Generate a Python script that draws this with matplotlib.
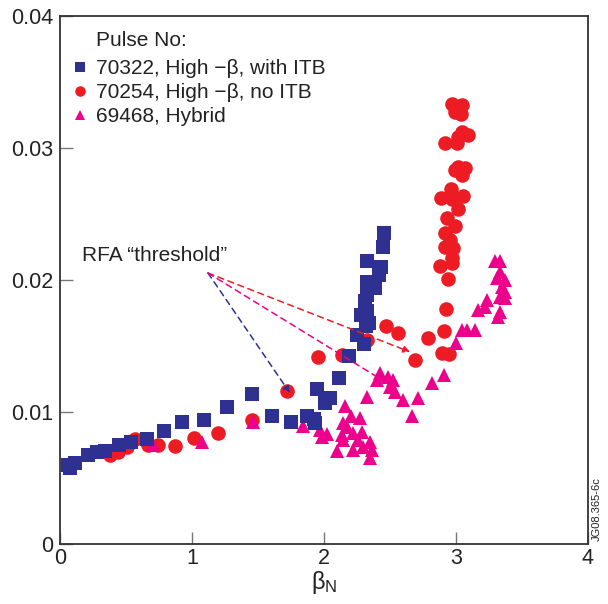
import matplotlib
matplotlib.use("Agg")
import matplotlib.pyplot as plt

plt.rcParams['font.family'] = ['Liberation Sans', 'DejaVu Sans']
plt.rcParams['mathtext.default'] = 'regular'

# 70322, High-beta, with ITB (squares)
beta_70322 = [0.061, 0.076, 0.114, 0.212, 0.280, 0.341, 0.447, 0.538, 0.659, 0.788,
              0.924, 1.091, 1.265, 1.455, 1.606, 1.750, 1.871, 1.924, 1.932, 1.947,
              2.045, 2.008, 2.114, 2.189, 2.250, 2.303, 2.318, 2.341, 2.280, 2.326,
              2.311, 2.326, 2.386, 2.326, 2.417, 2.432, 2.326, 2.447, 2.455]
rfa_70322 = [0.00598, 0.00576, 0.00614, 0.00674, 0.00697, 0.00705, 0.00750, 0.00773, 0.00795, 0.00856,
             0.00924, 0.00939, 0.01038, 0.01136, 0.00970, 0.00924, 0.00970, 0.00947, 0.00917, 0.01174,
             0.01106, 0.01068, 0.01258, 0.01424, 0.01583, 0.01515, 0.01652, 0.01674, 0.01735, 0.01765,
             0.01841, 0.01886, 0.01939, 0.01985, 0.02038, 0.02098, 0.02144, 0.02250, 0.02356]

# 70254, High-beta, no ITB (circles)
beta_70254 = [0.379, 0.439, 0.508, 0.568, 0.667, 0.742, 0.871, 1.015, 1.197, 1.455,
              1.720, 1.955, 2.136, 2.326, 2.470, 2.561, 2.689, 2.788, 2.894, 2.947,
              2.909, 2.924, 2.939, 2.879, 2.970, 2.970, 2.917, 2.977, 2.955, 2.917,
              2.992, 2.932, 3.015, 3.053, 2.970, 2.886, 2.962, 3.045, 2.992, 3.068,
              3.015, 3.008, 2.917, 3.015, 3.091, 3.045, 3.038, 2.992, 3.045, 2.970]
rfa_70254 = [0.00674, 0.00697, 0.00735, 0.00795, 0.00750, 0.00750, 0.00742, 0.00803, 0.00841, 0.00939,
             0.01159, 0.01417, 0.01432, 0.01545, 0.01652, 0.01598, 0.01394, 0.01561, 0.01447, 0.01439,
             0.01614, 0.01780, 0.02008, 0.02106, 0.02129, 0.02167, 0.02250, 0.02242, 0.02303, 0.02356,
             0.02409, 0.02470, 0.02538, 0.02636, 0.02614, 0.02621, 0.02689, 0.02795, 0.02833, 0.02848,
             0.02856, 0.03038, 0.03038, 0.03083, 0.03098, 0.03121, 0.03258, 0.03273, 0.03326, 0.03333]

# 69468, Hybrid (triangles)
beta_69468 = [0.705, 1.076, 1.462, 1.841, 2.159, 2.326, 2.205, 2.273, 2.144, 2.174,
              1.970, 2.023, 1.985, 2.136, 2.220, 2.288, 2.144, 2.258, 2.348, 2.098,
              2.220, 2.295, 2.364, 2.348, 2.424, 2.402, 2.485, 2.523, 2.500, 2.538,
              2.598, 2.712, 2.667, 2.818, 2.909, 3.000, 3.045, 3.083, 3.144, 3.167,
              3.220, 3.235, 3.333, 3.318, 3.333, 3.371, 3.348, 3.371, 3.311, 3.371,
              3.333, 3.295, 3.333]
rfa_69468 = [0.00750, 0.00773, 0.00924, 0.00894, 0.01045, 0.01114, 0.00970, 0.00955, 0.00917, 0.00886,
             0.00864, 0.00833, 0.00811, 0.00826, 0.00841, 0.00848, 0.00788, 0.00788, 0.00773, 0.00705,
             0.00712, 0.00735, 0.00712, 0.00652, 0.01295, 0.01242, 0.01265, 0.01242, 0.01189, 0.01152,
             0.01091, 0.01106, 0.00970, 0.01220, 0.01280, 0.01523, 0.01621, 0.01621, 0.01621, 0.01773,
             0.01795, 0.01848, 0.01758, 0.01720, 0.01871, 0.01864, 0.01947, 0.01909, 0.02015, 0.02000,
             0.02061, 0.02144, 0.02144]

# RFA threshold annotation: label origin and the three arrow targets
threshold_from = (1.121, 0.02053)
threshold_to = {'blue': (1.742, 0.01144), 'red': (2.652, 0.01455), 'magenta': (2.477, 0.0122)}

BLUE = '#2e3192'
RED = '#ed1c24'
MAGENTA = '#ec008c'
AXIS = '#333333'
TEXT = '#222222'

fig = plt.figure(figsize=(6.08, 6.04), dpi=100)
ax = fig.add_axes([0.0987, 0.0993, 0.8684, 0.8742])

h_red = ax.plot(beta_70254, rfa_70254, 'o', color=RED, markersize=10.5, markeredgewidth=0,
                label='70254, High \u2212\u03b2, no ITB')[0]
h_mag = ax.plot(beta_69468, rfa_69468, '^', color=MAGENTA, markersize=10, markeredgewidth=0,
                label='69468, Hybrid')[0]
h_blue = ax.plot(beta_70322, rfa_70322, 's', color=BLUE, markersize=10, markeredgewidth=0,
                 label='70322, High \u2212\u03b2, with ITB')[0]

for key, col in [('blue', BLUE), ('red', RED), ('magenta', MAGENTA)]:
    ax.annotate('', xy=threshold_to[key], xytext=threshold_from,
                arrowprops=dict(arrowstyle='-|>', color=col, lw=1.1, linestyle=(0, (4, 3)),
                                mutation_scale=10, shrinkA=0, shrinkB=0))
ax.text(0.167, 0.02182, 'RFA \u201cthreshold\u201d', fontsize=15, color=TEXT,
        ha='left', va='center')

# legend: title sits over the labels, not over the markers
ax.text(0.273, 0.03818, 'Pulse No:', fontsize=15, color=TEXT, ha='left', va='center')
leg = ax.legend(handles=[h_blue, h_red, h_mag], loc='upper left',
                bbox_to_anchor=(0.022, 0.918), frameon=False, fontsize=15,
                handlelength=0.8, handletextpad=0.37, borderpad=0, borderaxespad=0,
                labelspacing=0.24, markerscale=0.72)
for t in leg.get_texts():
    t.set_color(TEXT)

ax.set_xlim(0, 4)
ax.set_ylim(0, 0.04)
ax.set_xticks([0, 1, 2, 3, 4])
ax.set_xticklabels(['0', '1', '2', '3', '4'])
ax.set_yticks([0, 0.01, 0.02, 0.03, 0.04])
ax.set_yticklabels(['0', '0.01', '0.02', '0.03', '0.04'])
ax.tick_params(direction='in', length=9, width=1, color='#777777', labelsize=15.5,
               labelcolor=TEXT, top=False, right=False, pad=5)
ax.tick_params(axis='x', pad=3)
for s in ax.spines.values():
    s.set_color(AXIS)
    s.set_linewidth(1.3)
ax.set_xlabel('$\\beta_N$', fontsize=17, color=TEXT, labelpad=0)

fig.text(0.982, 0.104, 'JG08.365-6c', rotation=90, fontsize=8, color=TEXT,
         ha='center', va='bottom')

fig.savefig('out.png', dpi=100)
